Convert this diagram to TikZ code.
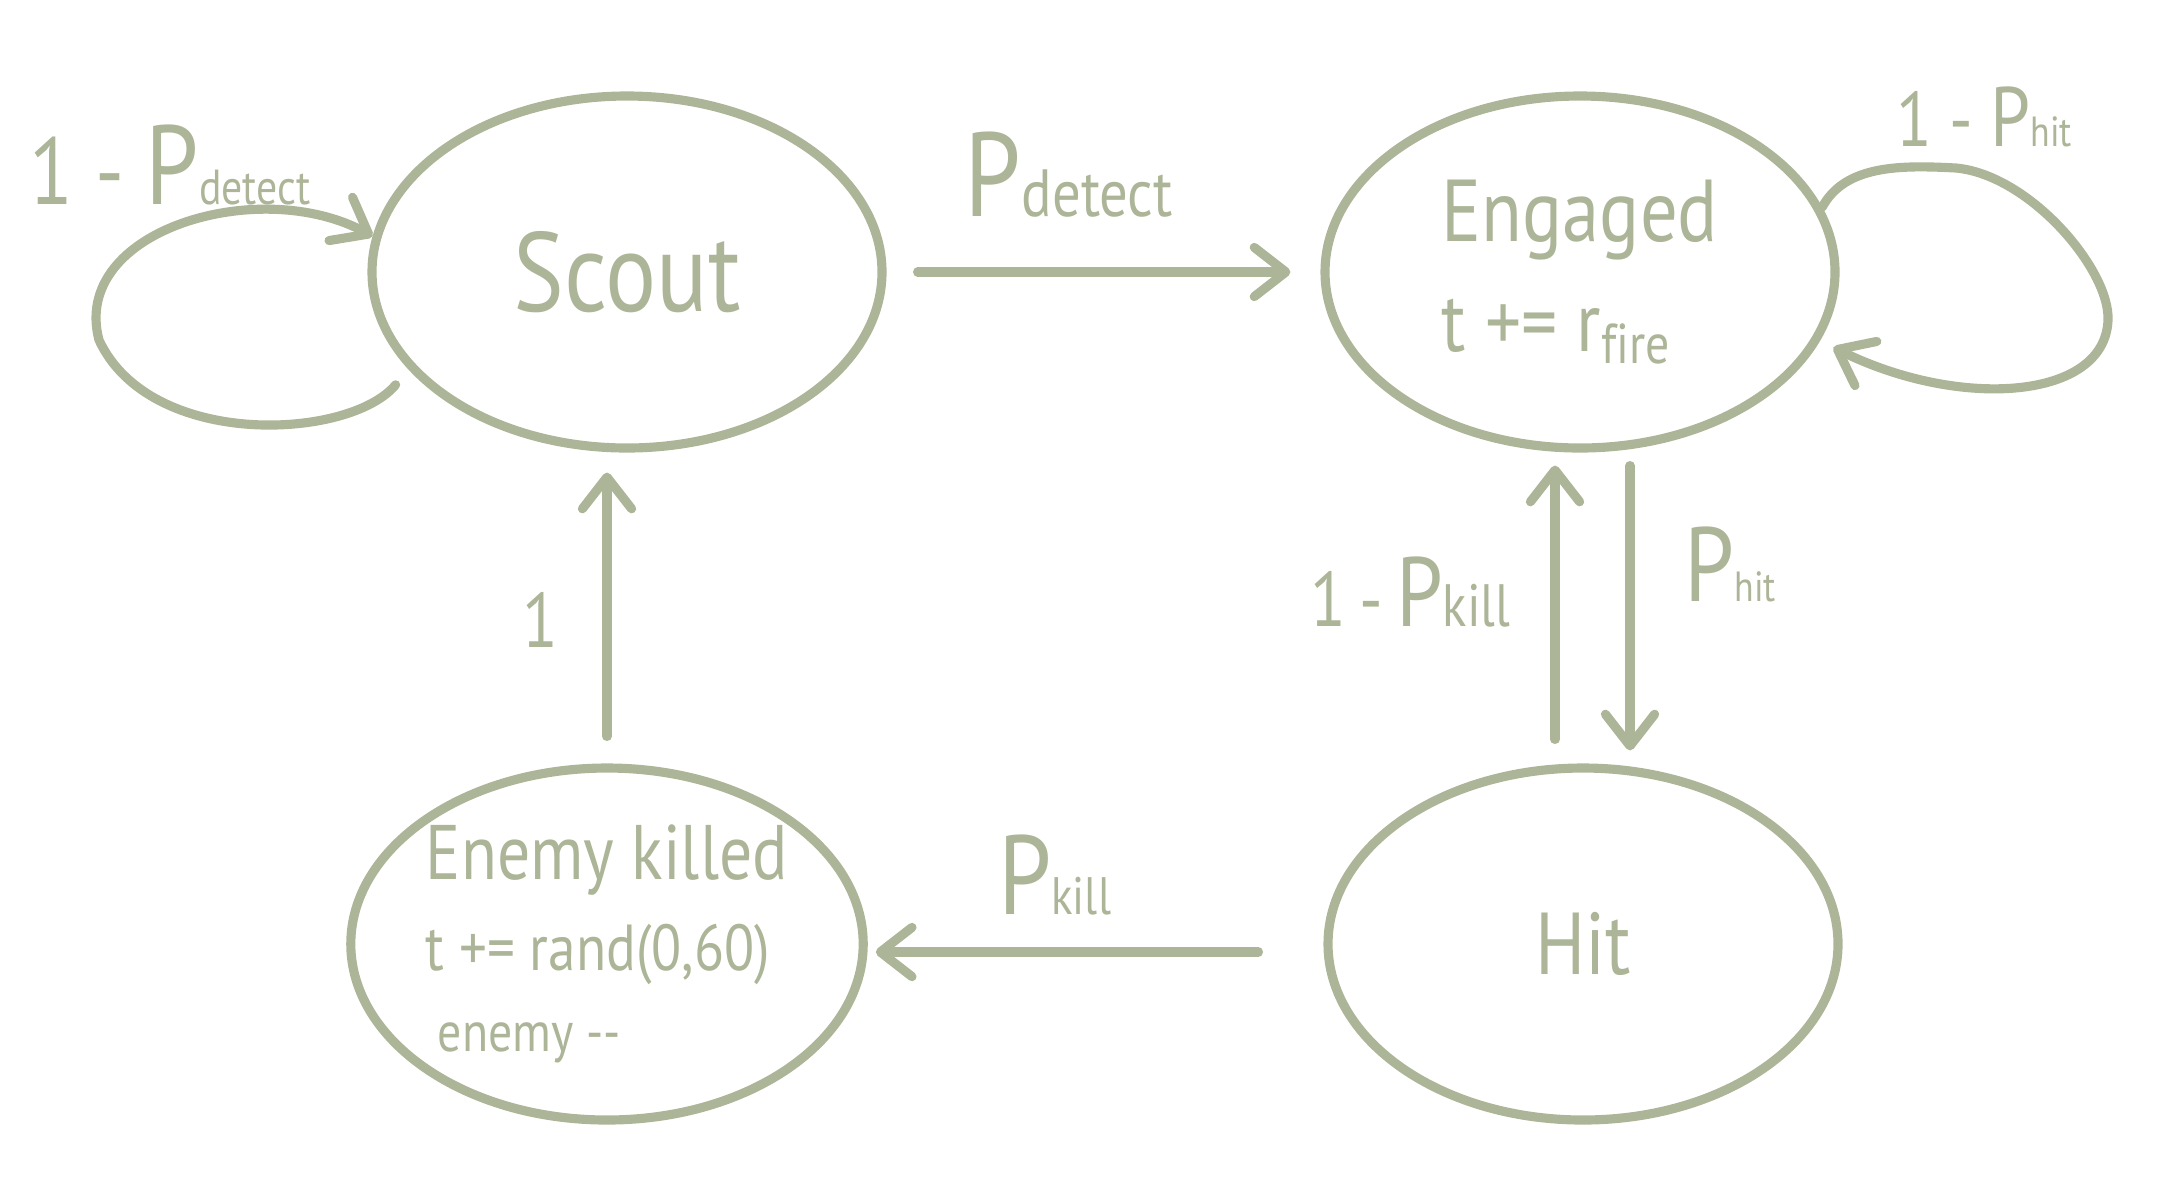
\documentclass[tikz,border=0pt]{standalone}
\usepackage{fontspec}
\newfontfamily\handfont[FakeStretch=0.85, Ligatures=NoCommon]{PT Sans}
\usetikzlibrary{shapes,arrows.meta}
\usetikzlibrary{positioning}
\definecolor{sage}{RGB}{172,181,151}
\newcommand{\fsz}[1]{\fontsize{#1}{#1}\selectfont}
\tikzstyle{state} = [draw=sage, ellipse, line width=2.6pt, minimum width=5.1cm, minimum height=3.52cm, inner sep=0pt, text=sage, font=\handfont]
\tikzstyle{trans} = [sage, line width=2.6pt, line cap=round, -{Straight Barb[round, length=9pt, width=14pt]}]
\tikzstyle{lbl} = [text=sage, font=\handfont, inner sep=0pt]

\begin{document}
\begin{tikzpicture}
    \useasboundingbox (0,0) rectangle (21.6,-12.03);
    % Placing the states
    \node [state] (scout) at (6.27,-2.72) {\fsz{32}Scout};
    \node [state, right of=scout, node distance=9.53cm, align=left] (engaged)
        {{\fsz{25}Engaged}\\[0.35cm]{\fsz{24}t += r\raisebox{-0.12cm}{\fsz{16}fire}}};
    \node [state, below of=scout, node distance=6.72cm, xshift=-0.2cm, align=left] (enemy)
        {{\fsz{22}Enemy killed}\\[0.25cm]{\fsz{18.5}t += rand(0,60)}\\[0.35cm]{\fsz{16}\hspace{0.12cm}enemy -{}-}};
    \node [state, right of=enemy, node distance=9.76cm] (hit) {\fsz{25}Hit};

    % Connecting the states
    \draw [trans, shorten <=0.31cm, shorten >=0.3cm] (scout) --
        node [lbl, pos=0.42, above=0.5cm] {\fsz{34}P\fsz{19}detect} (engaged);
    \draw [trans, shorten <=0.13cm, shorten >=0.13cm] ([xshift=0.5cm]engaged.south) --
        node [lbl, pos=0.36, right=0.5cm] {\fsz{30}P\fsz{12}hit} ([xshift=0.5cm]engaged.south |- hit.north);
    \draw [trans, shorten <=0.24cm, shorten >=0.13cm] ([xshift=-0.25cm]engaged.south |- hit.north) --
        node [lbl, pos=0.55, left=0.4cm] {\fsz{22}1\,-\,\fsz{28}P\fsz{17}kill} ([xshift=-0.25cm]engaged.south);
    \draw [trans, shorten <=0.65cm, shorten >=0.08cm] ([yshift=-0.08cm]hit.west) --
        node [lbl, pos=0.59, above=0.32cm] {\fsz{32}P\fsz{15}kill} ([yshift=-0.08cm]enemy.east);
    \draw [trans, shorten <=0.27cm, shorten >=0.2cm] (enemy.north) --
        node [lbl, pos=0.46, left=0.44cm] {\fsz{22}1} (enemy.north |- scout.south);

    % Self loops
    \draw [trans, shorten <=0.2cm] (scout.204) .. controls (3.5,-4.4) and (1.5,-4.5) .. (0.99,-3.4)
        .. controls (0.7,-2.3) and (2.6,-1.75) .. (scout.172);
    \node [lbl] (ldetect) at (1.7,-1.65) {\fsz{27}1 - \fsz{32}P\fsz{14}detect};
    \draw [trans, shorten >=0.15cm] (engaged.15) .. controls (18.45,-1.65) and (19.0,-1.65) .. (19.56,-1.68)
        .. controls (20.3,-1.75) and (21.1,-2.7) .. (21.08,-3.2)
        .. controls (21.05,-4.0) and (19.6,-4.1) .. (engaged.344);
    \node [lbl] (lhit) at (19.84,-1.17) {\fsz{22}1 - \fsz{24}P\fsz{12}hit};
\end{tikzpicture}
\end{document}
